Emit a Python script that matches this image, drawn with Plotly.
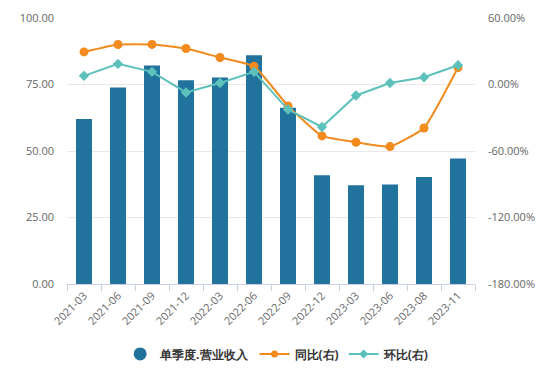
import plotly.graph_objects as go

categories = ["2021-03", "2021-06", "2021-09", "2021-12", "2022-03", "2022-06",
              "2022-09", "2022-12", "2023-03", "2023-06", "2023-08", "2023-11"]
revenue = [62.0, 73.9, 82.1, 76.6, 77.6, 86.0, 66.3, 40.9, 37.1, 37.4, 40.2, 47.2]
yoy = [29.4, 36.1, 36.2, 32.5, 24.4, 16.5, -19.3, -46.4, -52.1, -56.0, -39.2, 15.3]
qoq = [7.8, 18.6, 11.4, -7.2, 1.4, 11.4, -22.6, -38.3, -9.9, 1.4, 6.6, 17.4]

left_ticks = [0, 25, 50, 75, 100]
right_ticks = [-180, -120, -60, 0, 60]

BAR = "#21739d"
ORANGE = "#f28a1e"
TEAL = "#5cc0bb"
FONT = "Open Sans"

fig = go.Figure()
fig.add_trace(go.Bar(x=categories, y=revenue, name="单季度.营业收入",
                     marker=dict(color=BAR, line=dict(width=0)), width=0.47,
                     showlegend=False, yaxis="y"))
fig.add_trace(go.Scatter(x=categories, y=yoy, name="同比(右)", mode="lines+markers",
                         line=dict(color=ORANGE, width=2, shape="spline", smoothing=0.4),
                         marker=dict(symbol="circle", size=9, color=ORANGE),
                         yaxis="y2", showlegend=False))
fig.add_trace(go.Scatter(x=categories, y=qoq, name="环比(右)", mode="lines+markers",
                         line=dict(color=TEAL, width=2),
                         marker=dict(symbol="diamond", size=8, color=TEAL),
                         yaxis="y2", showlegend=False))
# legend entries
fig.add_trace(go.Scatter(x=[None], y=[None], name="单季度.营业收入", mode="markers",
                         marker=dict(symbol="circle", size=13, color=BAR)))
fig.add_trace(go.Scatter(x=[None], y=[None], name="同比(右)", mode="lines+markers",
                         line=dict(color=ORANGE, width=2),
                         marker=dict(symbol="circle", size=7, color=ORANGE)))
fig.add_trace(go.Scatter(x=[None], y=[None], name="环比(右)", mode="lines+markers",
                         line=dict(color=TEAL, width=2),
                         marker=dict(symbol="diamond", size=7, color=TEAL)))

fig.update_layout(
    width=546, height=372,
    margin=dict(l=59, r=79, t=10, b=96, autoexpand=False),
    paper_bgcolor="white", plot_bgcolor="white",
    font=dict(family=FONT, size=11, color="#666666"),
    xaxis=dict(type="category", showgrid=False, showline=True, linecolor="#c8d2e6",
               linewidth=1, ticks="outside", tickson="boundaries", ticklen=6,
               tickcolor="#c8d2e6", tickangle=-45, tickfont=dict(size=11, color="#666666"),
               range=[-0.5, 11.5], zeroline=False, automargin=False),
    yaxis=dict(range=[0, 100], tickvals=left_ticks,
               ticktext=[f"{v:.2f}" for v in left_ticks],
               showgrid=True, gridcolor="#e8e8e8", zeroline=False, showline=False,
               ticks="", ticklabelstandoff=12, automargin=False,
               tickfont=dict(size=11, color="#666666")),
    yaxis2=dict(range=[-180, 60], tickvals=right_ticks,
                ticktext=[f"{v:.2f}%" for v in right_ticks],
                overlaying="y", side="right", showgrid=False, zeroline=False,
                showline=False, ticks="", ticklabelstandoff=12, automargin=False,
                tickfont=dict(size=11, color="#666666")),
    legend=dict(orientation="h", x=0.515, xanchor="center", y=-0.263, yanchor="middle",
                font=dict(size=12, color="#333333", family=FONT, weight="bold"),
                itemwidth=30, traceorder="normal"),
    bargap=0.5,
)

fig.write_html("out.html")
